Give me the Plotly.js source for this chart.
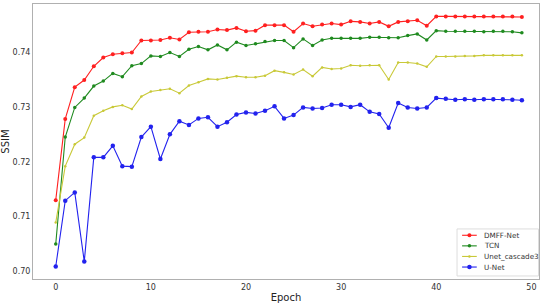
<!DOCTYPE html>
<html>
<head>
<meta charset="utf-8">
<script src="https://cdn.plot.ly/plotly-3.0.1.min.js"></script>
<style>
  html, body { margin: 0; padding: 0; background: #fff; }
  #chart { width: 550px; height: 304px; }
</style>
</head>
<body>
<div id="chart"></div>
<script>
// epochs 0..49
var epochs = [];
for (var i = 0; i < 50; i++) epochs.push(i);

// SSIM per epoch
var dmffNet = [0.7130, 0.7278, 0.7336, 0.7349, 0.7374, 0.7390, 0.7396, 0.7398, 0.7399, 0.7421,
               0.7421, 0.7422, 0.7426, 0.7423, 0.7436, 0.7437, 0.7437, 0.7441, 0.7440, 0.7444,
               0.7438, 0.7439, 0.7449, 0.7449, 0.7449, 0.7437, 0.7452, 0.7447, 0.7450, 0.7452,
               0.7450, 0.7456, 0.7455, 0.7452, 0.7455, 0.7447, 0.7455, 0.7456, 0.7458, 0.7448,
               0.7465, 0.7465, 0.7465, 0.7465, 0.7465, 0.7465, 0.7465, 0.7465, 0.7465, 0.7464];

var tcn = [0.7050, 0.7245, 0.7299, 0.7316, 0.7338, 0.7347, 0.7361, 0.7355, 0.7375, 0.7379,
           0.7393, 0.7392, 0.7399, 0.7392, 0.7405, 0.7410, 0.7404, 0.7413, 0.7404, 0.7418,
           0.7412, 0.7415, 0.7419, 0.7421, 0.7421, 0.7408, 0.7424, 0.7412, 0.7422, 0.7425,
           0.7425, 0.7425, 0.7425, 0.7427, 0.7427, 0.7426, 0.7426, 0.7430, 0.7433, 0.7422,
           0.7439, 0.7438, 0.7438, 0.7438, 0.7438, 0.7437, 0.7438, 0.7438, 0.7437, 0.7435];

var unetCascade3 = [0.7089, 0.7192, 0.7232, 0.7244, 0.7284, 0.7293, 0.7300, 0.7303, 0.7296, 0.7319,
                    0.7328, 0.7331, 0.7333, 0.7325, 0.7339, 0.7345, 0.7351, 0.7350, 0.7353, 0.7356,
                    0.7354, 0.7354, 0.7357, 0.7366, 0.7363, 0.7359, 0.7368, 0.7356, 0.7372, 0.7369,
                    0.7370, 0.7376, 0.7375, 0.7376, 0.7376, 0.7350, 0.7381, 0.7381, 0.7379, 0.7373,
                    0.7392, 0.7392, 0.7392, 0.7393, 0.7393, 0.7394, 0.7394, 0.7394, 0.7394, 0.7394];

var unet = [0.7009, 0.7129, 0.7144, 0.7018, 0.7208, 0.7208, 0.7229, 0.7192, 0.7191, 0.7245,
            0.7264, 0.7205, 0.7250, 0.7274, 0.7267, 0.7279, 0.7281, 0.7264, 0.7272, 0.7286,
            0.7290, 0.7288, 0.7293, 0.7301, 0.7279, 0.7285, 0.7299, 0.7297, 0.7298, 0.7304,
            0.7304, 0.7300, 0.7304, 0.7291, 0.7287, 0.7262, 0.7307, 0.7299, 0.7297, 0.7299,
            0.7316, 0.7315, 0.7313, 0.7314, 0.7313, 0.7314, 0.7314, 0.7314, 0.7313, 0.7312];

var seriesNames = ["DMFF-Net", "TCN", "Unet_cascade3", "U-Net"];
var seriesData = [dmffNet, tcn, unetCascade3, unet];
var seriesColors = ["#ff2020", "#1f8a1f", "#c9c938", "#2222ee"];
var markerSizes = [4, 3.5, 2.5, 4.5];

var data = seriesNames.map(function (name, k) {
  return {
    x: epochs,
    y: seriesData[k],
    name: name,
    type: "scatter",
    mode: "lines+markers",
    line: { color: seriesColors[k], width: 1.1 },
    marker: { color: seriesColors[k], size: markerSizes[k], symbol: "circle" }
  };
});

var font = "DejaVu Sans, sans-serif";

// compact legend (plotly's own legend rows are too tall for this figure)
var shapes = [{
  type: "rect", xref: "paper", yref: "paper",
  x0: 0.838, x1: 0.999, y0: 0.011, y1: 0.182,
  fillcolor: "rgba(255,255,255,0.9)", line: { color: "#dddddd", width: 1 }
}];
var annotations = [];
seriesNames.forEach(function (name, k) {
  var yy = 0.159 - k * 0.0385;
  shapes.push({
    type: "line", xref: "paper", yref: "paper",
    x0: 0.848, x1: 0.877, y0: yy, y1: yy,
    line: { color: seriesColors[k], width: 1.1 }
  });
  var r = markerSizes[k] / 2;
  shapes.push({
    type: "circle", xref: "paper", yref: "paper",
    xsizemode: "pixel", ysizemode: "pixel", xanchor: 0.8625, yanchor: yy,
    x0: -r, x1: r, y0: -r, y1: r,
    fillcolor: seriesColors[k], line: { width: 0 }
  });
  annotations.push({
    xref: "paper", yref: "paper", x: 0.887, y: yy,
    xanchor: "left", yanchor: "middle", showarrow: false,
    text: name, font: { family: font, size: 7.2, color: "#333" }
  });
});

var layout = {
  width: 550,
  height: 304,
  margin: { l: 33, r: 11, t: 4, b: 25 },
  paper_bgcolor: "#ffffff",
  plot_bgcolor: "#ffffff",
  showlegend: false,
  shapes: shapes,
  annotations: annotations,
  xaxis: {
    range: [-2.39, 50.8],
    tickvals: [0, 10, 20, 30, 40, 50],
    ticks: "",
    tickfont: { family: font, size: 8, color: "#333" },
    showgrid: false, zeroline: false,
    showline: true, mirror: true, linecolor: "#b0b0b0", linewidth: 1,
    title: { text: "Epoch", font: { family: font, size: 10, color: "#222" }, standoff: 3 },
    automargin: false
  },
  yaxis: {
    range: [0.69862, 0.74876],
    tickvals: [0.70, 0.71, 0.72, 0.73, 0.74],
    ticktext: ["0.70", "0.71", "0.72", "0.73", "0.74"],
    ticks: "",
    tickfont: { family: font, size: 8, color: "#333" },
    showgrid: false, zeroline: false,
    showline: true, mirror: true, linecolor: "#b0b0b0", linewidth: 1,
    title: { text: "SSIM", font: { family: font, size: 10, color: "#222" }, standoff: 3 },
    automargin: false
  }
};

Plotly.newPlot("chart", data, layout, { displayModeBar: false, staticPlot: true });
</script>
</body>
</html>
